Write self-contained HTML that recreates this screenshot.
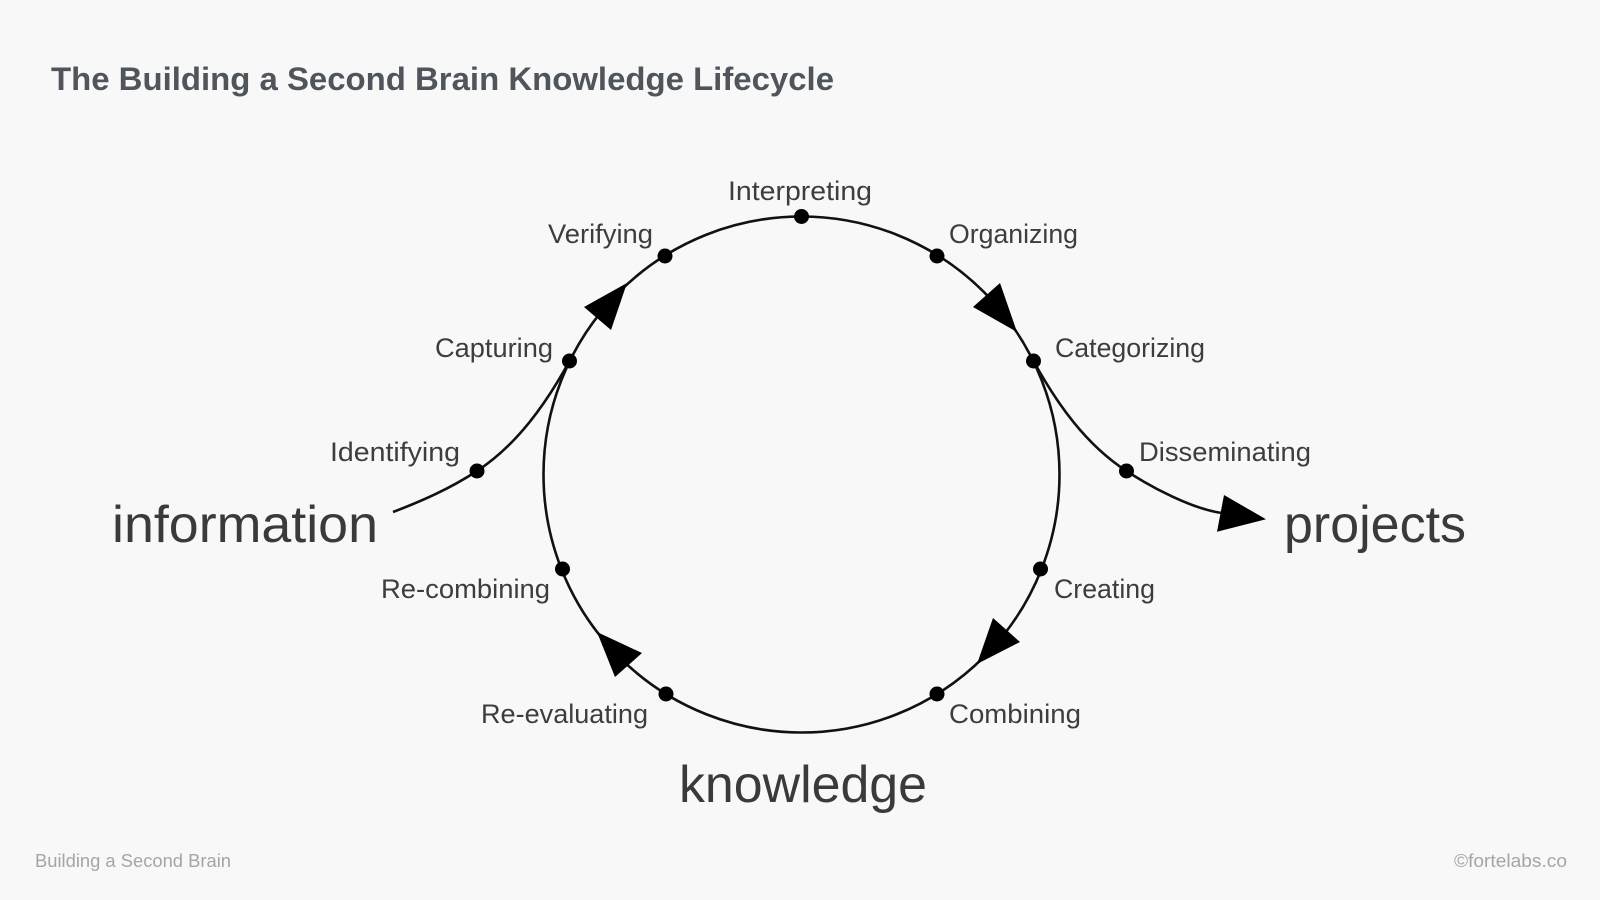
<!DOCTYPE html>
<html>
<head>
<meta charset="utf-8">
<style>
  html, body { margin: 0; padding: 0; background: #f8f8f8; }
  body { width: 1600px; height: 900px; overflow: hidden; }
  svg { display: block; }
  .lbl { font-family: "Liberation Sans", sans-serif; font-size: 27px; fill: #3d3d3d; }
  .big { font-family: "Liberation Sans", sans-serif; font-size: 52px; fill: #3a3a3a; }
  .foot { font-family: "Liberation Sans", sans-serif; font-size: 18px; fill: #a5a5a5; }
  .title { font-family: "Liberation Sans", sans-serif; font-size: 32px; font-weight: bold; fill: #50555c; }
</style>
</head>
<body>
<svg width="1600" height="900" viewBox="0 0 1600 900" xmlns="http://www.w3.org/2000/svg">
  <rect x="0" y="0" width="1600" height="900" fill="#f8f8f8"/>

  <!-- Title -->
  <text class="title" x="51" y="90" textLength="783" lengthAdjust="spacingAndGlyphs">The Building a Second Brain Knowledge Lifecycle</text>

  <!-- Main circle -->
  <circle cx="801.5" cy="474.5" r="258" fill="none" stroke="#111" stroke-width="2.6"/>

  <!-- Inflow curve -->
  <path d="M393,512 C421,501.4 449,489.2 477,471 C517.3,444.6 546.4,403.2 569.5,361" fill="none" stroke="#111" stroke-width="2.6"/>
  <!-- Outflow curve -->
  <path d="M1033.5,361 C1056.6,403.2 1085.7,444.6 1126.5,471 C1151.7,487.5 1192.3,509 1222,513" fill="none" stroke="#111" stroke-width="2.6"/>

  <!-- Arrowheads -->
  <polygon points="627,283 584,307 611,330" fill="#000"/>
  <polygon points="1017,332 973,307 1000,283" fill="#000"/>
  <polygon points="977,664 993,618 1020,642" fill="#000"/>
  <polygon points="597,632 615,677 642,653" fill="#000"/>
  <polygon points="1266,519.3 1224,495 1217,531.7" fill="#000"/>

  <!-- Dots -->
  <g fill="#000">
    <circle cx="801.5" cy="216.5" r="7.5"/>
    <circle cx="937" cy="256" r="7.5"/>
    <circle cx="665" cy="256" r="7.5"/>
    <circle cx="1033.5" cy="361" r="7.5"/>
    <circle cx="569.5" cy="361" r="7.5"/>
    <circle cx="1040.5" cy="569" r="7.5"/>
    <circle cx="562.5" cy="569" r="7.5"/>
    <circle cx="937" cy="694" r="7.5"/>
    <circle cx="666" cy="694" r="7.5"/>
    <circle cx="477" cy="471" r="7.5"/>
    <circle cx="1126.5" cy="471" r="7.5"/>
  </g>

  <!-- Stage labels -->
  <text class="lbl" x="728" y="200" textLength="144" lengthAdjust="spacingAndGlyphs">Interpreting</text>
  <text class="lbl" x="548" y="243" textLength="105" lengthAdjust="spacingAndGlyphs">Verifying</text>
  <text class="lbl" x="949" y="243" textLength="129" lengthAdjust="spacingAndGlyphs">Organizing</text>
  <text class="lbl" x="435" y="357" textLength="118" lengthAdjust="spacingAndGlyphs">Capturing</text>
  <text class="lbl" x="1055" y="357" textLength="150" lengthAdjust="spacingAndGlyphs">Categorizing</text>
  <text class="lbl" x="330" y="461" textLength="130" lengthAdjust="spacingAndGlyphs">Identifying</text>
  <text class="lbl" x="1139" y="461" textLength="172" lengthAdjust="spacingAndGlyphs">Disseminating</text>
  <text class="lbl" x="381" y="598" textLength="169" lengthAdjust="spacingAndGlyphs">Re-combining</text>
  <text class="lbl" x="1054" y="598" textLength="101" lengthAdjust="spacingAndGlyphs">Creating</text>
  <text class="lbl" x="481" y="723" textLength="167" lengthAdjust="spacingAndGlyphs">Re-evaluating</text>
  <text class="lbl" x="949" y="723" textLength="132" lengthAdjust="spacingAndGlyphs">Combining</text>

  <!-- Big words -->
  <text class="big" x="112" y="542" textLength="266" lengthAdjust="spacingAndGlyphs">information</text>
  <text class="big" x="1284" y="542" textLength="182" lengthAdjust="spacingAndGlyphs">projects</text>
  <text class="big" x="679" y="802" textLength="248" lengthAdjust="spacingAndGlyphs">knowledge</text>

  <!-- Footer -->
  <text class="foot" x="35" y="867" textLength="196" lengthAdjust="spacingAndGlyphs">Building a Second Brain</text>
  <text class="foot" x="1454" y="867" textLength="113" lengthAdjust="spacingAndGlyphs">©fortelabs.co</text>
</svg>
</body>
</html>
